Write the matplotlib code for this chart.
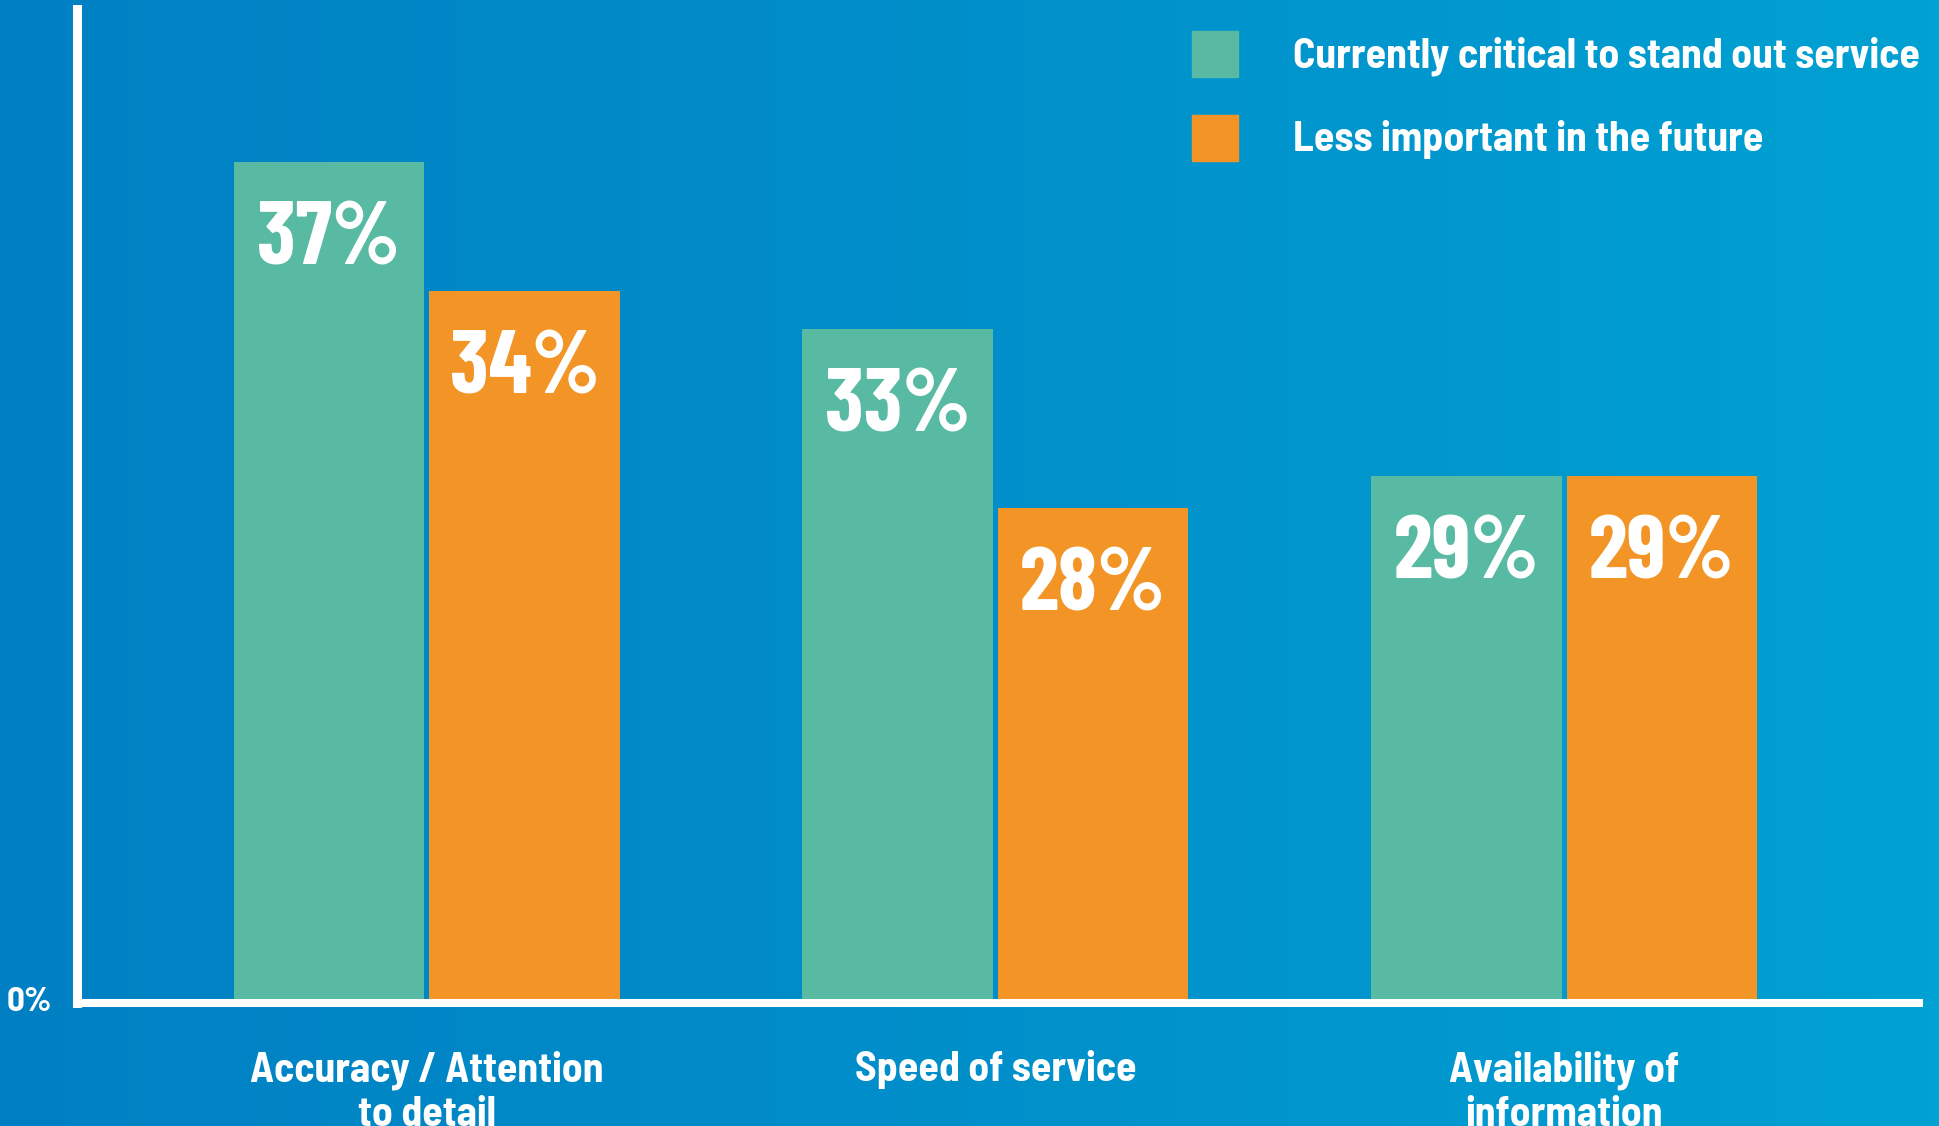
import matplotlib
matplotlib.use('Agg')
import matplotlib.pyplot as plt
from matplotlib.patches import Rectangle
from matplotlib.colors import LinearSegmentedColormap
import numpy as np

categories = ['Accuracy / Attention\nto detail', 'Speed of service', 'Availability of\ninformation']
series_names = ['Currently critical to stand out service', 'Less important in the future']
# printed percentages
critical_pct = [37, 33, 29]
future_pct = [34, 28, 29]
# bar lengths as drawn in the infographic (not to scale with the printed values)
critical_bar = [37.0, 29.6, 23.1]
future_bar = [31.3, 21.7, 23.1]

teal = '#58BAA2'
orange = '#F39427'
num_font = ['Barlow Condensed', 'DejaVu Sans']
txt_font = ['Barlow Semi Condensed', 'DejaVu Sans']

fig = plt.figure(figsize=(19.39, 11.26), dpi=100)

# background gradient
bg = fig.add_axes([0, 0, 1, 1])
cmap = LinearSegmentedColormap.from_list('bg', ['#0080C3', '#008FCA', '#00A1D3'])
grad = np.linspace(0, 1, 256).reshape(1, -1)
bg.imshow(grad, aspect='auto', cmap=cmap, extent=[0, 1, 0, 1])
bg.axis('off')

ax = fig.add_axes([76.5 / 1939, (1126 - 1003) / 1126, (1919 - 76.5) / 1939, (1003 - 9) / 1126])
ax.set_facecolor('none')

x = np.arange(len(categories))
w = 0.335
off = 0.172
b1 = ax.bar(x - off, critical_bar, w, color=teal, zorder=1)
b2 = ax.bar(x + off, future_bar, w, color=orange, zorder=1)

for bars, vals in [(b1, critical_pct), (b2, future_pct)]:
    for r, v in zip(bars, vals):
        ax.annotate(f'{v}%', (r.get_x() + r.get_width() / 2, r.get_height()),
                    xytext=(0, -57), textcoords='offset points',
                    ha='center', va='center', color='white', fontsize=64,
                    fontweight='bold', family=num_font)

ax.set_xlim(-0.6156, 2.624)
ax.set_ylim(-4 / 22.62, 990 / 22.62)

for s in ['top', 'right']:
    ax.spines[s].set_visible(False)
ax.spines['left'].set_color('white')
ax.spines['left'].set_linewidth(6.5)
ax.spines['bottom'].set_color('white')
ax.spines['bottom'].set_linewidth(5.8)
ax.spines['bottom'].set_zorder(3)

ax.set_xticks(x)
ax.set_xticklabels(categories, color='white', fontsize=30, fontweight='bold',
                   family=txt_font, linespacing=1.2)
ax.tick_params(axis='x', length=0, pad=34)
ax.set_yticks([0])
ax.set_yticklabels(['0%'], color='white', fontsize=25, fontweight='bold', family=txt_font)
ax.tick_params(axis='y', length=0, pad=17.5)

# legend
for i, (name, col) in enumerate(zip(series_names, [teal, orange])):
    yc = [54, 137.5][i]
    fig.add_artist(Rectangle((1192 / 1939, 1 - (yc + 23) / 1126), 46 / 1939, 46 / 1126,
                             transform=fig.transFigure, color=col))
    fig.text(1293 / 1939, 1 - (yc + 2) / 1126, name, color='white', fontsize=30,
             fontweight='bold', family=txt_font, va='center', ha='left')

fig.savefig('out.png', dpi=100)
